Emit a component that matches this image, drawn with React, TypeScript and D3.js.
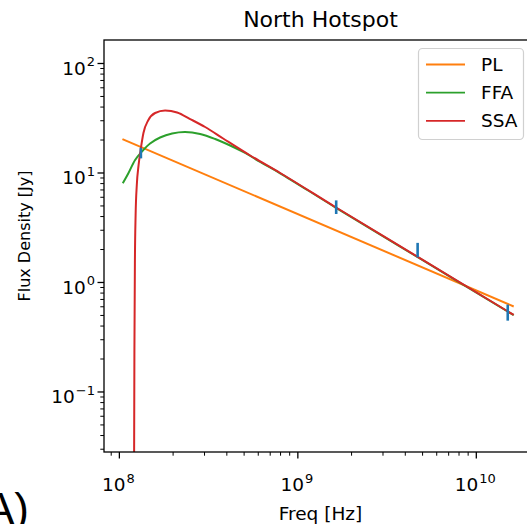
import React from "react";
import * as d3 from "d3";

// ---- data ----
const plFreq = [1.04e8, 1.62e10];
const plFlux = [20.4, 0.604];

const ffaFreq = [1.045e8, 1.123e8, 1.225e8, 1.335e8, 1.486e8, 1.691e8, 1.975e8, 2.335e8, 2.835e8, 3.441e8, 4.175e8, 5.068e8, 6.151e8, 7.96e8, 1.62e9, 4.85e9, 1.62e10];
const ffaFlux = [8.05, 9.94, 13.15, 15.65, 18.6, 21.1, 22.95, 23.68, 22.7, 20.44, 17.83, 15.23, 12.6, 9.94, 4.86, 1.65, 0.503];

const ssaFreq = [1.209e8, 1.214e8, 1.222e8, 1.233e8, 1.252e8, 1.281e8, 1.315e8, 1.364e8, 1.454e8, 1.586e8, 1.804e8, 2.106e8, 2.491e8, 3.023e8, 3.814e8, 5.405e8, 7.96e8, 1.62e9, 4.85e9, 1.62e10];
const ssaFlux = [0.0239, 0.242, 1.6, 4.13, 7.76, 11.8, 16.2, 23.2, 30.5, 35.3, 37.2, 35.7, 31.1, 26.3, 20.65, 14.45, 10.0, 4.89, 1.66, 0.505];

const obsFreq = [1.32e8, 1.64e9, 4.69e9, 1.5e10];
const obsFlux = [15.3, 4.92, 2.0, 0.538];
const obsErr = [1.7, 0.7, 0.3, 0.09];

const xDomain = [8.2e7, 2.188e10];
const yDomain = [0.0283, 163.9];
const xMajor = [1e8, 1e9, 1e10];
const xExp = ["8", "9", "10"];
const yMajor = [0.1, 1, 10, 100];
const yExp = ["\u22121", "0", "1", "2"];

const seriesNames = ["PL", "FFA", "SSA"];
const seriesColors = ["#ff7f0e", "#2ca02c", "#d62728"];
const errColor = "#1f77b4";

const W = 527, H = 524;
const L = 104, R = 537, T = 40, B = 452;
const FONT = "DejaVu Sans";

function minorTicks(domain: number[]) {
  const out: number[] = [];
  const lo = Math.floor(Math.log10(domain[0]));
  const hi = Math.ceil(Math.log10(domain[1]));
  for (let e = lo; e <= hi; e++) {
    for (let m = 2; m <= 9; m++) {
      const v = m * Math.pow(10, e);
      if (v >= domain[0] && v <= domain[1]) out.push(v);
    }
  }
  return out;
}

export default function App() {
  const x = d3.scaleLog().domain(xDomain).range([L, R]);
  const y = d3.scaleLog().domain(yDomain).range([B, T]);
  const smooth = d3
    .line<[number, number]>()
    .x((d) => x(d[0]))
    .y((d) => y(d[1]))
    .curve(d3.curveCatmullRom.alpha(0.5));
  const mono = d3
    .line<[number, number]>()
    .x((d) => x(d[0]))
    .y((d) => y(d[1]))
    .curve(d3.curveMonotoneX);

  const pl = plFreq.map((f, i) => [f, plFlux[i]] as [number, number]);
  const ffa = ffaFreq.map((f, i) => [f, ffaFlux[i]] as [number, number]);
  const ssa = ssaFreq.map((f, i) => [f, ssaFlux[i]] as [number, number]);
  const paths = [mono(pl), smooth(ffa), mono(ssa)];

  const xMinor = minorTicks(xDomain);
  const yMinor = minorTicks(yDomain);

  return (
    <svg width={W} height={H} style={{ position: "absolute", left: 0, top: 0, background: "#fff" }} fontFamily={FONT}>
      <defs>
        <clipPath id="plot">
          <rect x={L} y={T} width={R - L} height={B - T} />
        </clipPath>
      </defs>
      <rect x={0} y={0} width={W} height={H} fill="#fff" />
      {/* title */}
      <text x={(L + R) / 2} y={27} textAnchor="middle" fontSize={22} fill="#000">
        North Hotspot
      </text>
      {/* curves */}
      <g clipPath="url(#plot)">
        {paths.map((p, i) => (
          <path key={i} d={p || ""} fill="none" stroke={seriesColors[i]} strokeWidth={2} />
        ))}
        {obsFreq.map((f, i) => (
          <line
            key={i}
            x1={x(f)}
            x2={x(f)}
            y1={y(obsFlux[i] - obsErr[i])}
            y2={y(obsFlux[i] + obsErr[i])}
            stroke={errColor}
            strokeWidth={2.6}
          />
        ))}
      </g>
      {/* spines */}
      <rect x={L} y={T} width={R - L} height={B - T} fill="none" stroke="#000" strokeWidth={1.3} />
      {/* x ticks */}
      {xMajor.map((v, i) => (
        <g key={"xm" + i}>
          <line x1={x(v)} x2={x(v)} y1={B} y2={B + 6.5} stroke="#000" strokeWidth={1.3} />
          <text x={x(v) - 1} y={491} textAnchor="middle" fontSize={18.5} fill="#000">
            <tspan>10</tspan>
            <tspan dx={1} dy={-8.5} fontSize={13}>{xExp[i]}</tspan>
          </text>
        </g>
      ))}
      {xMinor.map((v, i) => (
        <line key={"xn" + i} x1={x(v)} x2={x(v)} y1={B} y2={B + 3.7} stroke="#000" strokeWidth={1} />
      ))}
      {/* y ticks */}
      {yMajor.map((v, i) => (
        <g key={"ym" + i}>
          <line x1={L} x2={L - 6.5} y1={y(v)} y2={y(v)} stroke="#000" strokeWidth={1.3} />
          <text x={95} y={y(v) + 11.5} textAnchor="end" fontSize={18.5} fill="#000">
            <tspan>10</tspan>
            <tspan dx={1} dy={-8.5} fontSize={13}>{yExp[i]}</tspan>
          </text>
        </g>
      ))}
      {yMinor.map((v, i) => (
        <line key={"yn" + i} x1={L} x2={L - 3.7} y1={y(v)} y2={y(v)} stroke="#000" strokeWidth={1} />
      ))}
      {/* axis labels */}
      <text x={(L + R) / 2} y={520} textAnchor="middle" fontSize={18.5} fill="#000">
        Freq [Hz]
      </text>
      <text
        transform={`translate(30,236) rotate(-90)`}
        textAnchor="middle"
        fontSize={16}
        fill="#000"
      >
        Flux Density [Jy]
      </text>
      {/* legend */}
      <rect x={418.5} y={48.5} width={105} height={91} rx={4} fill="#fff" fillOpacity={0.8} stroke="#d0d0d0" strokeWidth={1.2} />
      {seriesNames.map((n, i) => {
        const ly = 64.5 + i * 28.2;
        return (
          <g key={n}>
            <line x1={426} x2={465} y1={ly} y2={ly} stroke={seriesColors[i]} strokeWidth={1.8} />
            <text x={481} y={ly + 6.5} fontSize={18.5} fill="#000">
              {n}
            </text>
          </g>
        );
      })}
      {/* panel letter (cut off at the left edge, as in the reference) */}
      <text x={29} y={524} textAnchor="end" fontSize={44} fontFamily="Liberation Sans" fill="#000">
        A)
      </text>
    </svg>
  );
}
